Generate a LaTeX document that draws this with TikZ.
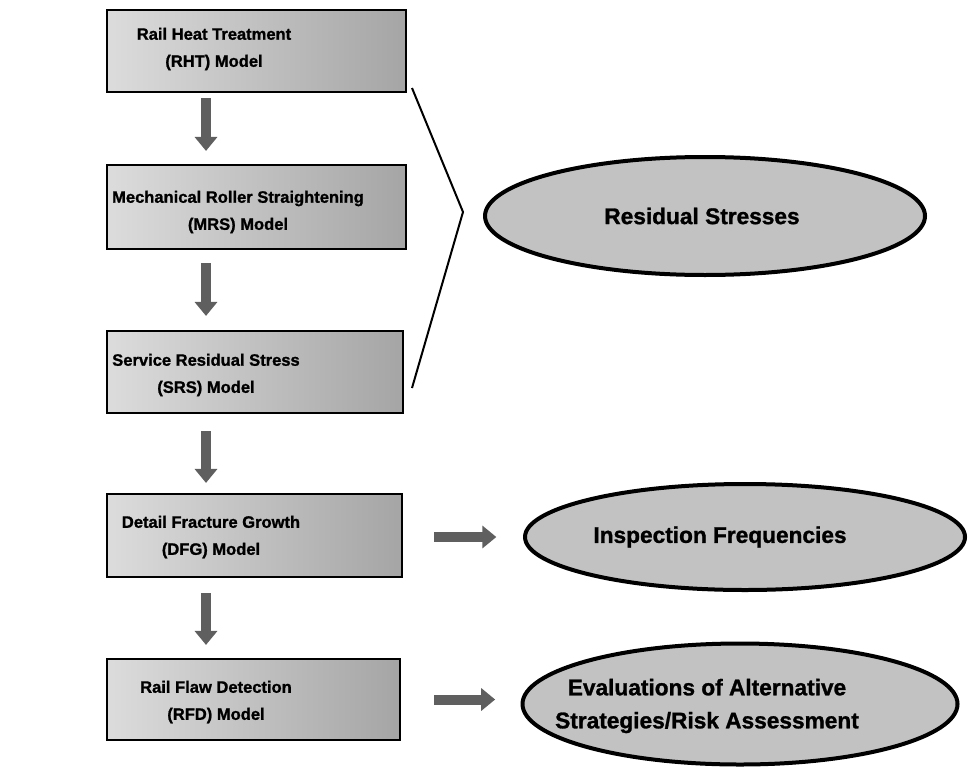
\documentclass[tikz,border=0pt]{standalone}
\usepackage{fontspec}
\setmainfont[BoldFeatures={FakeBold=1.2}]{Liberation Sans}
\usetikzlibrary{shapes.geometric,arrows.meta,calc}
\definecolor{boxL}{RGB}{220,220,220}
\definecolor{boxR}{RGB}{165,165,165}
\definecolor{ellfill}{RGB}{194,194,194}
\definecolor{arrfill}{RGB}{95,95,95}
\begin{document}
\begin{tikzpicture}[x=0.75pt,y=-0.75pt,
  box/.style={rectangle, draw=black, line width=1.6pt, left color=boxL, right color=boxR, inner sep=0pt},
  boxtext/.style={font=\fontsize{12.4}{20.3}\selectfont\bfseries, align=center, inner sep=0pt},
  oval/.style={ellipse, draw=black, line width=3pt, fill=ellfill, inner sep=0pt},
  ovaltext/.style={font=\fontsize{17}{24.8}\selectfont\bfseries, align=center, inner sep=0pt},
  blk/.style={draw=arrfill, line width=7.5pt, -{Triangle[width=16.5pt,length=10.5pt]}},
  bracket/.style={line width=1.5pt, line join=miter}]
\useasboundingbox (0,0) rectangle (969,767);

% model boxes
\node[box, minimum width=224.25pt, minimum height=61.5pt] (b1) at (256.5,51) {};
\node[box, minimum width=224.25pt, minimum height=63pt] (b2) at (256.5,207) {};
\node[box, minimum width=222pt, minimum height=61.5pt] (b3) at (255,372) {};
\node[box, minimum width=221.25pt, minimum height=62.25pt] (b4) at (254.5,535.5) {};
\node[box, minimum width=219.75pt, minimum height=60.75pt] (b5) at (253.5,699.5) {};

\node[boxtext] (t1) at (214,49) {Rail Heat Treatment\\(RHT) Model};
\node[boxtext] (t2) at (238,212) {Mechanical Roller Straightening\\(MRS) Model};
\node[boxtext] (t3) at (206,375) {Service Residual Stress\\(SRS) Model};
\node[boxtext] (t4) at (211,537) {Detail Fracture Growth\\(DFG) Model};
\node[boxtext] (t5) at (216,702) {Rail Flaw Detection\\(RFD) Model};

% result ellipses
\node[oval, minimum width=330pt, minimum height=88.5pt] (e1) at (705,216) {};
\node[oval, minimum width=330pt, minimum height=79.5pt] (e2) at (745,537) {};
\node[oval, minimum width=326.25pt, minimum height=90.75pt] (e3) at (740,704) {};

\node[ovaltext] (r1) at (702,216) {Residual Stresses};
\node[ovaltext] (r2) at (720,537) {Inspection Frequencies};
\node[ovaltext] (r3) at (707,706) {Evaluations of Alternative\\Strategies/Risk Assessment};

% vertical block arrows
\coordinate (ax) at (206,0);
\draw[blk, shorten <=3.75pt, shorten >=9.75pt] (b1.south -| ax) -- (b2.north -| ax);
\draw[blk, shorten <=9.75pt, shorten >=10.5pt] (b2.south -| ax) -- (b3.north -| ax);
\draw[blk, shorten <=12.75pt, shorten >=7.5pt] (b3.south -| ax) -- (b4.north -| ax);
\draw[blk, shorten <=11.25pt, shorten >=9.75pt] (b4.south -| ax) -- (b5.north -| ax);

% horizontal block arrows
\draw[blk, shorten <=23.25pt, shorten >=20pt] (b4.east |- e2.west) -- (e2.west);
\draw[blk, shorten <=24.75pt, shorten >=19pt] (b5.east) -- (b5.east -| e3.west);

% bracket grouping the residual-stress models
\coordinate (bt) at (412,88);
\coordinate (bm) at (463,212);
\coordinate (bb) at (412,388);
\draw[bracket] (bt) -- (bm) -- (bb);
\end{tikzpicture}
\end{document}
